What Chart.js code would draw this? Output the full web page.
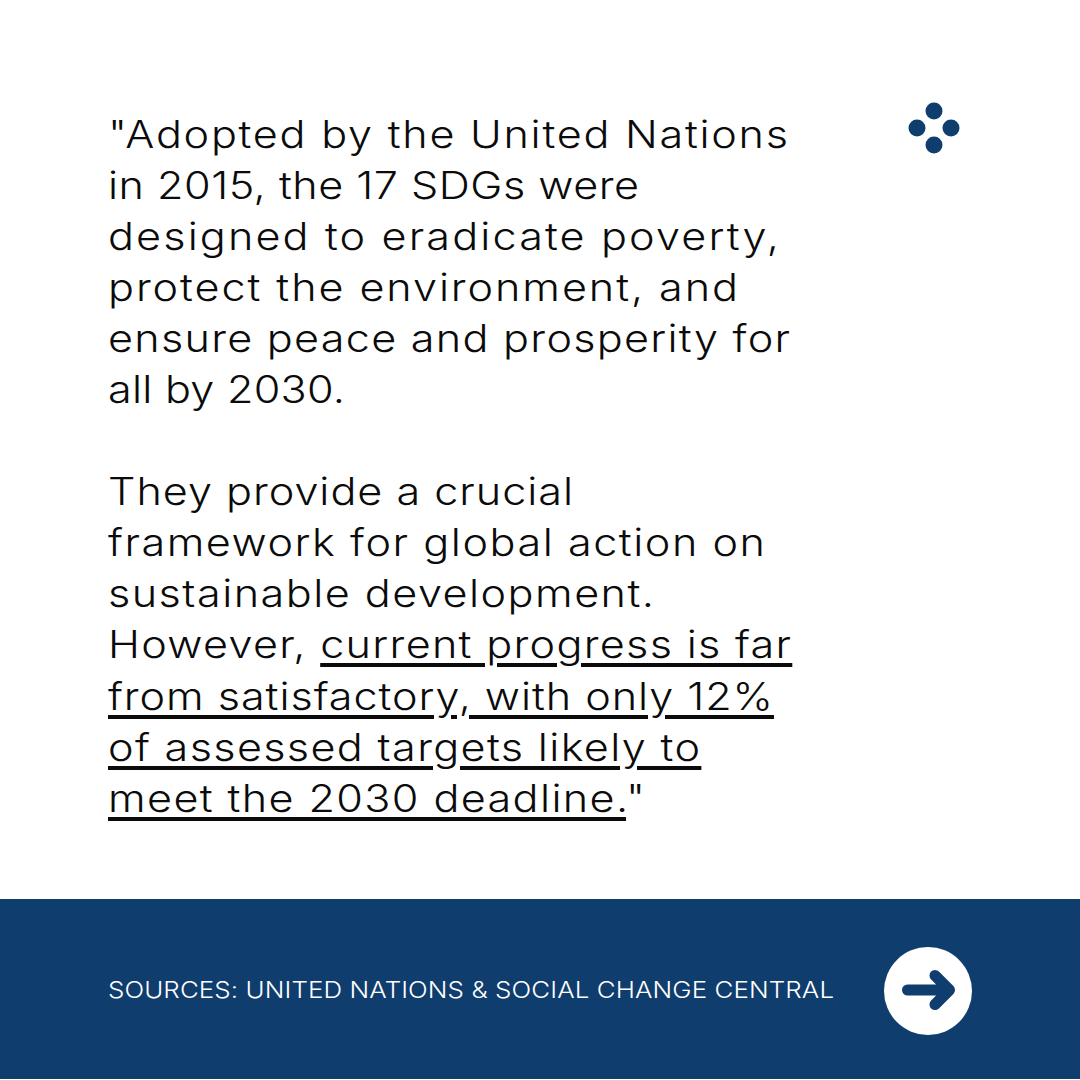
<!DOCTYPE html>
<html><head><meta charset="utf-8">
<script src="https://cdn.jsdelivr.net/npm/chart.js@4"></script>
<style>
html,body{margin:0;padding:0;background:#fff;width:1080px;height:1080px;overflow:hidden}
#text{position:absolute;left:108px;top:109px;font-family:Inter,sans-serif;font-size:37.5px;line-height:51.05px;color:#0b0b0b;white-space:pre;font-weight:300;transform-origin:0 0;transform:scaleX(1.15)}
#text div{height:51.05px}
#text span{display:inline-block}
#text u{text-decoration-thickness:4px;text-underline-offset:4.5px}
#band{position:absolute;left:0;top:899px;width:1080px;height:180px;background:#0f3d6e}
#src{position:absolute;left:108px;top:977px;font-family:Inter,sans-serif;font-size:22.5px;line-height:26px;color:#fff;white-space:pre;font-weight:300;transform-origin:0 0;transform:scaleX(1.15)}
#src span{display:inline-block}
#circle{position:absolute;left:884px;top:947px;width:88px;height:88px;border-radius:50%;background:#fff}
#arrow{position:absolute;left:884px;top:947px}
#dots{position:absolute;left:900px;top:94px;width:68px;height:68px}
</style></head><body>
<div id="text"></div>
<div id="band"></div>
<div id="src"></div>
<div id="circle"></div>
<svg id="arrow" width="88" height="88" viewBox="0 0 88 88"><path d="M23.5 43H64M51 28.5L65.5 43L51 57.5" fill="none" stroke="#0f3d6e" stroke-width="11" stroke-linecap="round" stroke-linejoin="round"/></svg>
<div id="dots"><canvas id="c" width="68" height="68"></canvas></div>
<script>
const bodyLines = [
  '"Adopted by the United Nations',
  'in 2015, the 17 SDGs were',
  'designed to eradicate poverty,',
  'protect the environment, and',
  'ensure peace and prosperity for',
  'all by 2030.',
  '',
  'They provide a crucial',
  'framework for global action on',
  'sustainable development.',
  'However, <u>current progress is far</u>',
  '<u>from satisfactory, with only 12%</u>',
  '<u>of assessed targets likely to</u>',
  '<u>meet the 2030 deadline.</u>"'
];
const bodyRightEdges = [788, 639, 779, 738, 790, 345, 0, 573, 765, 654, 791, 773, 700, 645];
const sourceLine = 'SOURCES: UNITED NATIONS &amp; SOCIAL CHANGE CENTRAL';
const sourceRightEdge = 834;
const dotX = [0, 1, -1, 0];
const dotY = [1, 0, 0, -1];
const LEFT = 108, SCALE = 1.15;

function fit(span, right) {
  const chars = span.textContent.length;
  const target = (right - LEFT) / SCALE;
  span.style.letterSpacing = '0px';
  const w = span.getBoundingClientRect().width / SCALE;
  span.style.letterSpacing = ((target - w) / Math.max(chars - 1, 1)) + 'px';
}
const box = document.getElementById('text');
bodyLines.forEach((html, i) => {
  const d = document.createElement('div');
  const s = document.createElement('span');
  s.innerHTML = html;
  d.appendChild(s);
  box.appendChild(d);
  if (html) fit(s, bodyRightEdges[i]);
});
const srcSpan = document.createElement('span');
srcSpan.innerHTML = sourceLine;
document.getElementById('src').appendChild(srcSpan);
fit(srcSpan, sourceRightEdge);

new Chart(document.getElementById('c'), {
  type: 'scatter',
  data: { datasets: [{ data: dotX.map((x, i) => ({ x, y: dotY[i] })), backgroundColor: '#0f3d6e', borderWidth: 0, pointRadius: 8.5 }] },
  options: {
    responsive: false, animation: false,
    layout: { padding: 0, autoPadding: false },
    plugins: { legend: { display: false }, tooltip: { enabled: false } },
    scales: {
      x: { display: false, min: -2, max: 2 },
      y: { display: false, min: -2, max: 2 }
    }
  }
});
</script>
</body></html>
